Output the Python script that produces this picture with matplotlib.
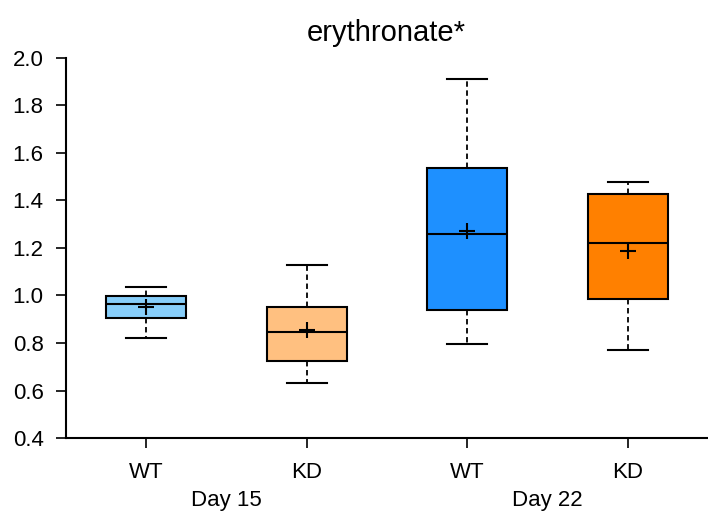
import matplotlib.pyplot as plt
import matplotlib.transforms as mtransforms
import numpy as np

# box plot summary values
groups = ['WT', 'KD', 'WT', 'KD']
days = ['Day 15', 'Day 22']
whisker_low = [0.822, 0.632, 0.796, 0.771]
q1 = [0.906, 0.724, 0.940, 0.985]
medians = [0.964, 0.846, 1.257, 1.221]
q3 = [0.998, 0.952, 1.535, 1.425]
whisker_high = [1.037, 1.129, 1.912, 1.477]
means = [0.953, 0.853, 1.272, 1.188]
colors = ['#87CEFA', '#FFC080', '#1E90FF', '#FF8000']

plt.rcParams['font.family'] = ['Liberation Sans', 'DejaVu Sans']

fig = plt.figure(figsize=(7.08, 5.16), dpi=100)
ax = fig.add_axes([0.093, 0.151, 0.905, 0.737])

stats = []
for i in range(len(groups)):
    stats.append({'whislo': whisker_low[i], 'q1': q1[i], 'med': medians[i],
                  'q3': q3[i], 'whishi': whisker_high[i], 'mean': means[i],
                  'fliers': []})

positions = np.arange(1, len(groups) + 1)
bp = ax.bxp(stats, positions=positions, widths=0.5, patch_artist=True,
            showmeans=True,
            boxprops=dict(edgecolor='black', linewidth=1.5),
            medianprops=dict(color='black', linewidth=1.5),
            whiskerprops=dict(color='black', linewidth=1.3, linestyle=(0, (3, 2))),
            capprops=dict(color='black', linewidth=1.5),
            meanprops=dict(marker='+', markeredgecolor='black', markersize=11,
                           markeredgewidth=1.5))
for patch, c in zip(bp['boxes'], colors):
    patch.set_facecolor(c)

ax.set_xlim(0.5, 4.49)
ax.set_ylim(0.4, 2.0)
ax.set_yticks(np.arange(0.4, 2.01, 0.2))
ax.set_yticklabels([f'{v:.1f}' for v in np.arange(0.4, 2.01, 0.2)])
ax.set_xticks(positions)
ax.set_xticklabels(groups)
ax.tick_params(axis='both', direction='out', length=7, width=1.2,
               labelsize=16)
ax.tick_params(axis='y', pad=9)
ax.tick_params(axis='x', pad=10)
ax.spines['top'].set_visible(False)
ax.spines['right'].set_visible(False)
for s in ['left', 'bottom']:
    ax.spines[s].set_linewidth(1.5)

trans = mtransforms.blended_transform_factory(ax.transData, ax.transAxes)
for k, d in enumerate(days):
    ax.text(1.5 + 2 * k, -0.165, d, transform=trans, ha='center', va='center',
            fontsize=16)

ax.set_title('erythronate*', fontsize=21, pad=12)

fig.savefig('out.png', dpi=100)
